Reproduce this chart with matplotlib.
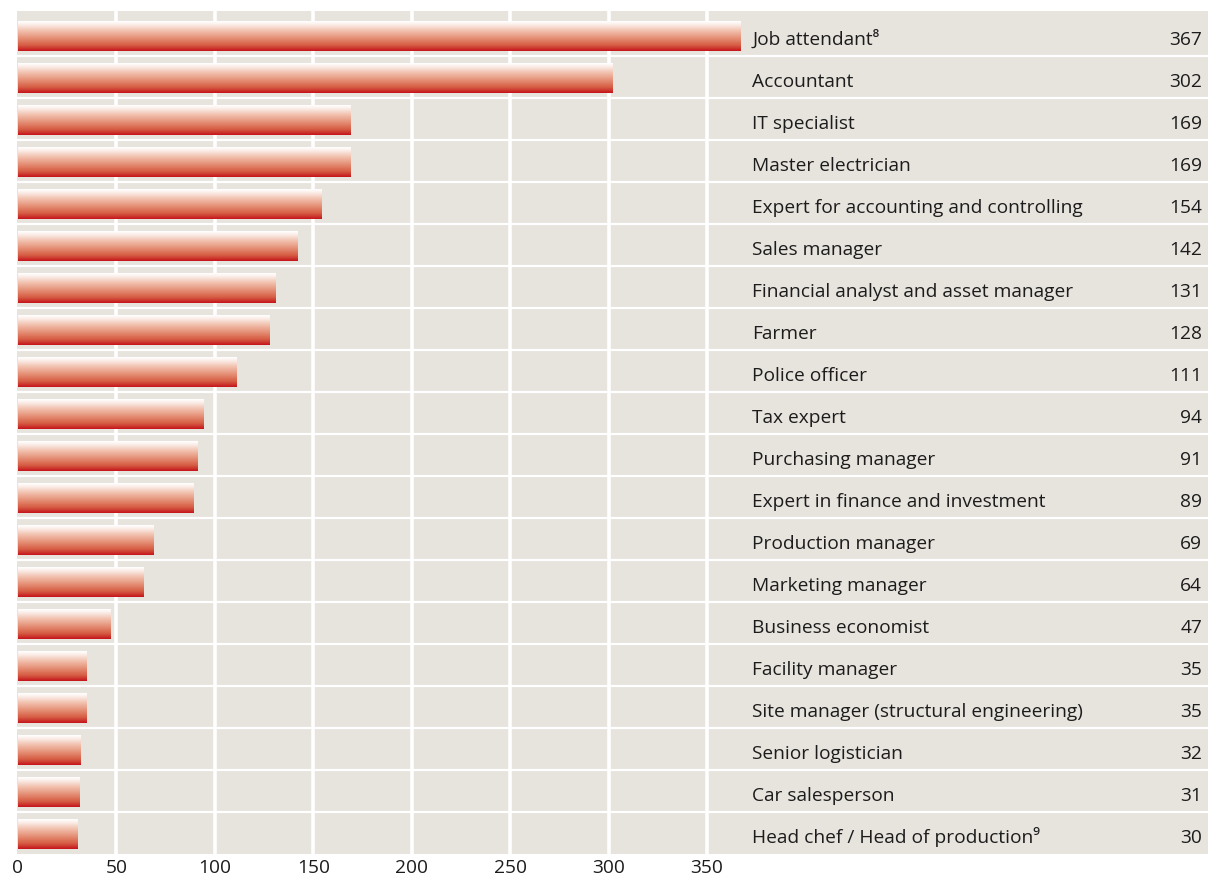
"""
Bar chart of job titles with gradient bars, labels and values on the right.
"""
import numpy as np
import matplotlib.pyplot as plt
from matplotlib.colors import LinearSegmentedColormap

plt.rcParams['font.family'] = ['Open Sans', 'DejaVu Sans']

jobs = ['Job attendant⁸', 'Accountant', 'IT specialist', 'Master electrician',
        'Expert for accounting and controlling', 'Sales manager',
        'Financial analyst and asset manager', 'Farmer', 'Police officer',
        'Tax expert', 'Purchasing manager', 'Expert in finance and investment',
        'Production manager', 'Marketing manager', 'Business economist',
        'Facility manager', 'Site manager (structural engineering)',
        'Senior logistician', 'Car salesperson', 'Head chef / Head of production⁹']
counts = [367, 302, 169, 169, 154, 142, 131, 128, 111, 94, 91, 89, 69, 64, 47,
          35, 35, 32, 31, 30]
xticks = [0, 50, 100, 150, 200, 250, 300, 350]

BG = '#e7e4de'
TXT = '#1c1c1c'
grad = LinearSegmentedColormap.from_list(
    'bar', [(0, '#ffffff'), (0.12, '#fbece6'), (0.35, '#f0bba7'),
            (0.6, '#e38a70'), (0.82, '#d55a42'), (1, '#c4141a')])

W, H = 1208, 879
fig = plt.figure(figsize=(W / 100, H / 100), dpi=100)
ax = fig.add_axes([17 / W, (H - 855) / H, 1 - 17 / W, (855 - 12) / H])
ax.set_facecolor(BG)

n = len(jobs)

# white grid: vertical at ticks, horizontal row separators
for t in xticks[1:]:
    ax.axvline(t, color='white', lw=2.6, zorder=1)
for i in range(n - 1):
    ax.axhline(i + 0.5, color='white', lw=1.6, zorder=1)

g = np.linspace(0, 1, 128).reshape(-1, 1)
bh = 0.71
for i, v in enumerate(counts):
    yc = i + 0.03
    ax.imshow(g, cmap=grad, aspect='auto', interpolation='bilinear',
              extent=(0, v, yc + bh / 2, yc - bh / 2), zorder=2)
    ax.text(373, i + 0.21, jobs[i], ha='left', va='baseline', fontsize=13.8, color=TXT)
    ax.text(601.5, i + 0.21, str(v), ha='right', va='baseline', fontsize=13.8, color=TXT)

ax.set_xlim(-0.5, 604.5)
ax.set_ylim(n - 0.5, -0.57)
ax.set_xticks(xticks)
ax.set_xticklabels([str(t) for t in xticks], fontsize=13.8, color=TXT)
ax.set_yticks([])
ax.tick_params(axis='x', length=0, pad=3)
for s in ax.spines.values():
    s.set_visible(False)

fig.savefig('out.png', dpi=100)
